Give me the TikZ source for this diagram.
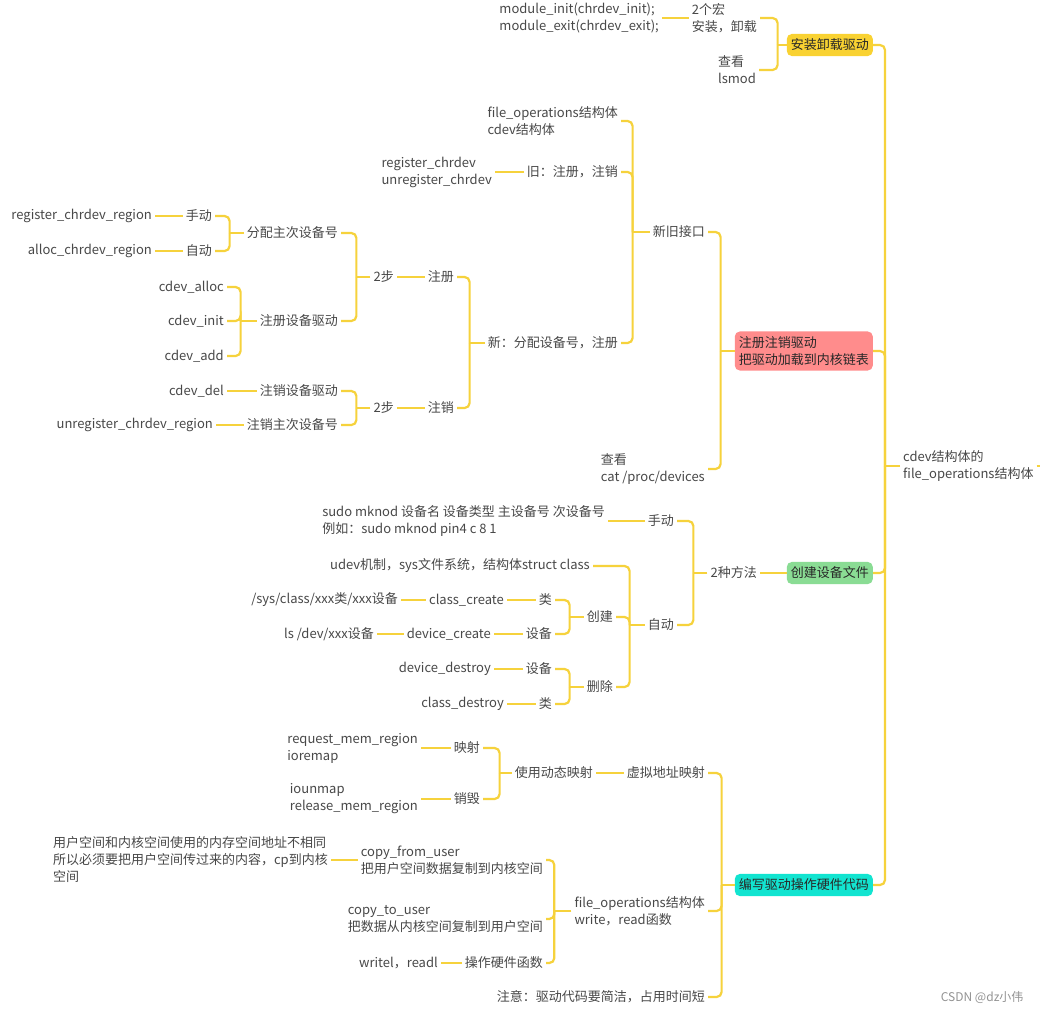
\documentclass[tikz,border=0pt]{standalone}
\usepackage{fontspec}
\setmainfont{Noto Sans CJK SC}
\usepackage{xcolor}
\usepackage{tikz}
\usetikzlibrary{positioning,calc}

\definecolor{linecol}{RGB}{246,210,60}
\definecolor{txtgray}{RGB}{72,72,72}
\definecolor{boxtext}{RGB}{40,40,40}
\definecolor{installfill}{RGB}{249,210,50}
\definecolor{regfill}{RGB}{255,140,140}
\definecolor{filefill}{RGB}{138,220,148}
\definecolor{codefill}{RGB}{18,228,208}

\begin{document}
\begin{tikzpicture}[
    x=1pt, y=-1pt,
    topic/.style={anchor=east, align=left, inner xsep=3pt, inner ysep=2pt, text=txtgray, font=\fontsize{13}{17}\selectfont},
    mainbox/.style={anchor=east, align=left, rounded corners=5pt, inner xsep=4pt, inner ysep=5pt, text=boxtext, font=\fontsize{13}{17}\selectfont},
    link/.style={draw=linecol, line width=2.2pt, rounded corners=5pt}
]
    \fill[white] (0,0) rectangle (1040,1011);
    \useasboundingbox (0,0) rectangle (1040,1011);

    \node [topic, anchor=west] (cen) at (900,466) {cdev结构体的\\file\_operations结构体};
    \node [mainbox, fill=installfill] (bInstall) at (873,45) {安装卸载驱动};
    \node [mainbox, fill=regfill] (bReg) at (873,351) {注册注销驱动\\把驱动加载到内核链表};
    \node [mainbox, fill=filefill] (bFile) at (873,573) {创建设备文件};
    \node [mainbox, fill=codefill] (bCode) at (873,885) {编写驱动操作硬件代码};

    \node [topic] (macro2) at (760,18) {2个宏\\安装，卸载};
    \node [topic] (lsm) at (759,70) {查看\\lsmod};
    \node [topic] (modfn) at (662,18) {module\_init(chrdev\_init);\\module\_exit(chrdev\_exit);};

    \node [topic] (newold) at (708,232) {新旧接口};
    \node [topic] (cat) at (708,469) {查看\\cat /proc/devices};
    \node [topic] (fops1) at (621,121) {file\_operations结构体\\cdev结构体};
    \node [topic] (old) at (621,172) {旧：注册，注销};
    \node [topic] (new) at (621,343) {新：分配设备号，注册};
    \node [topic] (regc) at (495,172) {register\_chrdev\\unregister\_chrdev};
    \node [topic] (reg) at (457,277) {注册};
    \node [topic] (unreg) at (457,408) {注销};
    \node [topic] (step1) at (397,277) {2步};
    \node [topic] (step2) at (397,408) {2步};
    \node [topic] (alloc) at (341,233) {分配主次设备号};
    \node [topic] (regdrv) at (341,321) {注册设备驱动};
    \node [topic] (deldrv) at (341,391) {注销设备驱动};
    \node [topic] (delno) at (341,425) {注销主次设备号};
    \node [topic] (man1) at (215,216) {手动};
    \node [topic] (auto1) at (215,251) {自动};
    \node [topic] (rcr) at (155,216) {register\_chrdev\_region};
    \node [topic] (acr) at (155,251) {alloc\_chrdev\_region};
    \node [topic] (calloc) at (227,287) {cdev\_alloc};
    \node [topic] (cinit) at (227,321) {cdev\_init};
    \node [topic] (cadd) at (227,356) {cdev\_add};
    \node [topic] (cdel) at (227,391) {cdev\_del};
    \node [topic] (ucr) at (216,425) {unregister\_chrdev\_region};

    \node [topic] (way2) at (760,573) {2种方法};
    \node [topic] (man2) at (677,521) {手动};
    \node [topic] (auto2) at (677,625) {自动};
    \node [topic] (mknod) at (608,521) {sudo mknod 设备名 设备类型 主设备号 次设备号\\例如：sudo mknod pin4 c 8 1};
    \node [topic] (udev) at (593,566) {udev机制，sys文件系统，结构体struct class};
    \node [topic] (create) at (616,617) {创建};
    \node [topic] (del) at (616,687) {删除};
    \node [topic] (cls1) at (555,600) {类};
    \node [topic] (dev1) at (555,634) {设备};
    \node [topic] (dev2) at (555,669) {设备};
    \node [topic] (cls2) at (555,704) {类};
    \node [topic] (ccreate) at (507,600) {class\_create};
    \node [topic] (dcreate) at (494,634) {device\_create};
    \node [topic] (ddestroy) at (494,669) {device\_destroy};
    \node [topic] (cdestroy) at (507,704) {class\_destroy};
    \node [topic] (sysp) at (401,600) {/sys/class/xxx类/xxx设备};
    \node [topic] (lsdev) at (377,634) {ls /dev/xxx设备};

    \node [topic] (vmap) at (708,773) {虚拟地址映射};
    \node [topic] (fops2) at (708,911) {file\_operations结构体\\write，read函数};
    \node [topic] (note) at (708,997) {注意：驱动代码要简洁，占用时间短};
    \node [topic] (dyn) at (596,773) {使用动态映射};
    \node [topic] (map) at (483,748) {映射};
    \node [topic] (unmap) at (483,799) {销毁};
    \node [topic] (ioremap) at (421,748) {request\_mem\_region\\ioremap};
    \node [topic] (iounmap) at (421,799) {iounmap\\release\_mem\_region};
    \node [topic] (cfu) at (546,860) {copy\_from\_user\\把用户空间数据复制到内核空间};
    \node [topic] (ctu) at (546,919) {copy\_to\_user\\把数据从内核空间复制到用户空间};
    \node [topic] (hw) at (546,963) {操作硬件函数};
    \node [topic] (userk) at (331,860) {用户空间和内核空间使用的内存空间地址不相同\\所以必须要把用户空间传过来的内容，cp到内核\\空间};
    \node [topic] (wrl) at (441,963) {writel，readl};

    \node [anchor=east, text=gray!85, font=\fontsize{12}{14}\selectfont] (mark) at (1027,997) {CSDN @dz小伟};

    \coordinate (root) at (1040,466);
    \draw [link] (cen.east) -- (root);
    \draw [link] (cen.west) -- ++(-15,0) coordinate (jc);
    \foreach \b in {bInstall,bReg,bFile,bCode} \draw [link] (jc) |- (\b.east);

    \draw [link] (bInstall.west) -- ++(-9,0) coordinate (j1);
    \foreach \c in {macro2,lsm} \draw [link] (j1) |- (\c.east);
    \draw [link] (macro2.west) -- (modfn.east);

    \draw [link] (bReg.west) -- ++(-14,0) coordinate (j2);
    \foreach \c in {newold,cat} \draw [link] (j2) |- (\c.east);
    \draw [link] (newold.west) -- ++(-17,0) coordinate (j3);
    \foreach \c in {fops1,old,new} \draw [link] (j3) |- (\c.east);
    \draw [link] (old.west) -- (regc.east);
    \draw [link] (new.west) -- ++(-15,0) coordinate (j4);
    \foreach \c in {reg,unreg} \draw [link] (j4) |- (\c.east);
    \draw [link] (reg.west) -- (step1.east);
    \draw [link] (unreg.west) -- (step2.east);
    \draw [link] (step1.west) -- ++(-14,0) coordinate (j5);
    \foreach \c in {alloc,regdrv} \draw [link] (j5) |- (\c.east);
    \draw [link] (step2.west) -- ++(-14,0) coordinate (j6);
    \foreach \c in {deldrv,delno} \draw [link] (j6) |- (\c.east);
    \draw [link] (alloc.west) -- ++(-14,0) coordinate (j7);
    \foreach \c in {man1,auto1} \draw [link] (j7) |- (\c.east);
    \draw [link] (regdrv.west) -- ++(-16,0) coordinate (j8);
    \foreach \c in {calloc,cinit,cadd} \draw [link] (j8) |- (\c.east);
    \draw [link] (man1.west) -- (rcr.east);
    \draw [link] (auto1.west) -- (acr.east);
    \draw [link] (deldrv.west) -- (cdel.east);
    \draw [link] (delno.west) -- (ucr.east);

    \draw [link] (bFile.west) -- (way2.east);
    \draw [link] (way2.west) -- ++(-14,0) coordinate (j9);
    \foreach \c in {man2,auto2} \draw [link] (j9) |- (\c.east);
    \draw [link] (man2.west) -- (mknod.east);
    \draw [link] (auto2.west) -- ++(-15,0) coordinate (j10);
    \foreach \c in {udev,create,del} \draw [link] (j10) |- (\c.east);
    \draw [link] (create.west) -- ++(-14,0) coordinate (j11);
    \foreach \c in {cls1,dev1} \draw [link] (j11) |- (\c.east);
    \draw [link] (del.west) -- ++(-14,0) coordinate (j12);
    \foreach \c in {dev2,cls2} \draw [link] (j12) |- (\c.east);
    \draw [link] (cls1.west) -- (ccreate.east);
    \draw [link] (ccreate.west) -- (sysp.east);
    \draw [link] (dev1.west) -- (dcreate.east);
    \draw [link] (dcreate.west) -- (lsdev.east);
    \draw [link] (dev2.west) -- (ddestroy.east);
    \draw [link] (cls2.west) -- (cdestroy.east);

    \draw [link] (bCode.west) -- ++(-13,0) coordinate (j13);
    \foreach \c in {vmap,fops2,note} \draw [link] (j13) |- (\c.east);
    \draw [link] (vmap.west) -- (dyn.east);
    \draw [link] (dyn.west) -- ++(-12,0) coordinate (j14);
    \foreach \c in {map,unmap} \draw [link] (j14) |- (\c.east);
    \draw [link] (map.west) -- (ioremap.east);
    \draw [link] (unmap.west) -- (iounmap.east);
    \draw [link] (fops2.west) -- ++(-17,0) coordinate (j15);
    \foreach \c in {cfu,ctu,hw} \draw [link] (j15) |- (\c.east);
    \draw [link] (cfu.west) -- (userk.east);
    \draw [link] (hw.west) -- (wrl.east);
\end{tikzpicture}
\end{document}
